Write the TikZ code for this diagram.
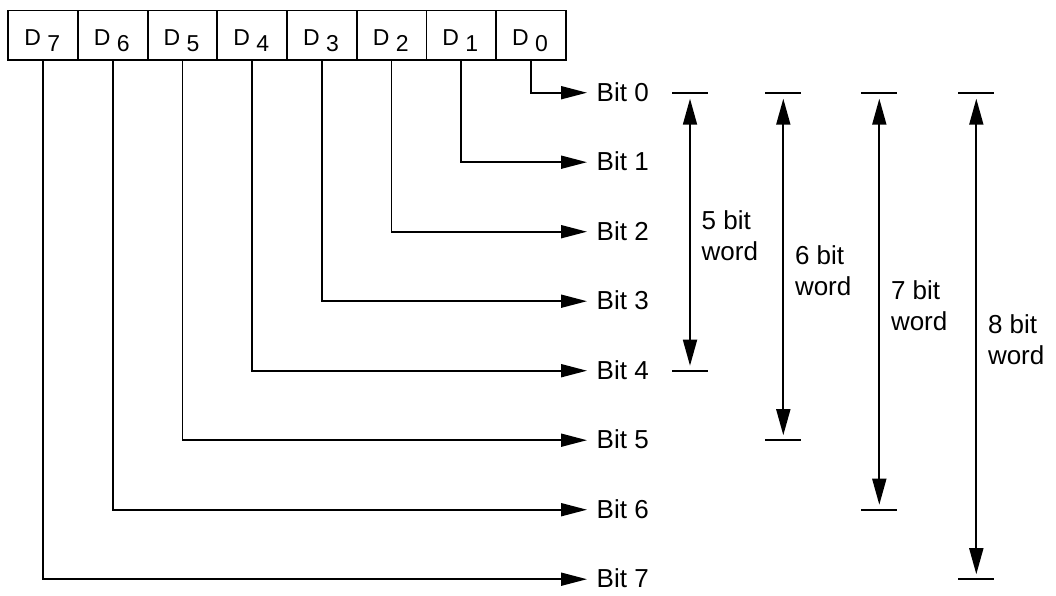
\documentclass[tikz,border=0pt]{standalone}
\usepackage{fontspec}
\setmainfont{Liberation Sans}
\usetikzlibrary{arrows.meta}
\begin{document}
\begin{tikzpicture}[x=1pt,y=-1pt,
  cell/.style={draw,line width=1.8pt,minimum width=69.7pt,minimum height=49.8pt,inner sep=0pt,anchor=north west},
  dlab/.style={font=\fontsize{23}{27}\selectfont,anchor=base,inner sep=0pt},
  blab/.style={font=\fontsize{26}{31}\selectfont,anchor=base west,inner sep=0pt},
  wire/.style={line width=1.8pt,-{Triangle[length=26pt,width=13pt]}},
  dimarrow/.style={line width=1.8pt,{Triangle[length=26pt,width=14pt]}-{Triangle[length=26pt,width=14pt]},shorten <=6pt,shorten >=5pt},
  tickline/.style={line width=1.8pt}]
\useasboundingbox (0,0) rectangle (1056,595);
% register cells, their labels and the bit lines
\foreach \k in {0,...,7} {
  \node[cell] (c\k) at ({7.3+69.7*(7-\k)},9.5) {};
  \node[dlab] (l\k) at ({42.15+69.7*(7-\k)},45.7) {D \raisebox{-5.3pt}{\k}};
  \coordinate (t\k) at (587,{92.7+69.5*\k});
  \draw[wire] (c\k.south) |- (t\k);
  \node[blab] (b\k) at (596.5,{92.7+69.5*\k+8.7}) {Bit \k};
}
% word-length dimensions
\foreach \n/\k/\x in {5/4/690, 6/5/783.3, 7/6/879.3, 8/7/976.3} {
  \coordinate (top\n) at (\x,92.7);
  \coordinate (bot\n) at (\x,{92.7+69.5*\k});
  \draw[tickline] ([xshift=-18pt]top\n) -- ([xshift=18pt]top\n);
  \draw[tickline] ([xshift=-18pt]bot\n) -- ([xshift=18pt]bot\n);
  \draw[dimarrow] (top\n) -- (bot\n);
  \node[blab] (wa\n) at ({\x+11.5},{92.7+69.5*\k/2-2}) {\n{} bit};
  \node[blab] (wb\n) at ({\x+11.5},{92.7+69.5*\k/2+29}) {word};
}
\end{tikzpicture}
\end{document}
